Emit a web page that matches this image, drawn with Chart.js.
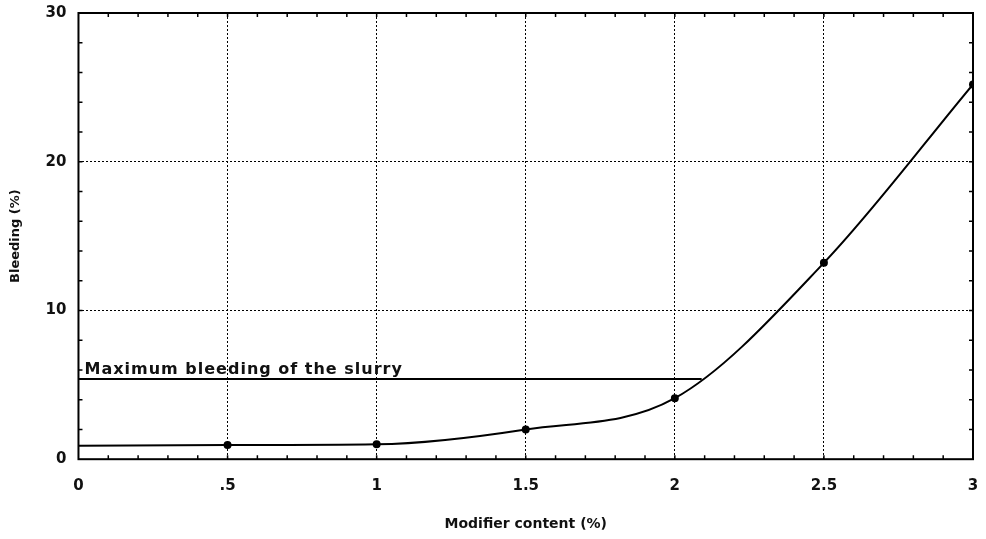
<!DOCTYPE html>
<html>
<head>
<meta charset="utf-8">
<script src="https://cdn.jsdelivr.net/npm/chart.js@4.4.0/dist/chart.umd.min.js"></script>
<style>
  html, body { margin: 0; padding: 0; background: #fff; }
  #wrap { width: 986px; height: 539px; }
</style>
</head>
<body>
<div id="wrap"><canvas id="bleeding-chart"></canvas></div>
<script>
// values
const modifierContent = [0, 0.5, 1, 1.5, 2, 2.5, 3];
const bleeding = [0.9, 0.95, 1.0, 2.0, 4.1, 13.2, 25.2];
const pointSizes = [0, 3, 3, 3, 3, 3, 3];
const maxBleedingX = [0, 2.09];
const maxBleedingY = [5.4, 5.4];
const maxBleedingLabel = 'Maximum bleeding of the slurry';
const xTicks = [0, 0.5, 1, 1.5, 2, 2.5, 3];
const yTicks = [0, 10, 20, 30];

const ctx = document.getElementById('bleeding-chart').getContext('2d');

// box, minor ticks and the label on the max line
const frame = {
  id: 'frame',
  afterDraw(chart) {
    const c = chart.ctx, a = chart.chartArea;
    const xs = chart.scales.x, ys = chart.scales.y;
    c.save();
    c.setLineDash([]);
    c.strokeStyle = '#000';
    c.lineWidth = 1.5;
    c.beginPath();
    for (let v = 0.1; v < 3; v += 0.1) {
      const px = xs.getPixelForValue(v);
      c.moveTo(px, a.bottom); c.lineTo(px, a.bottom - 4);
      c.moveTo(px, a.top); c.lineTo(px, a.top + 4);
    }
    for (let v = 2; v < 30; v += 2) {
      const py = ys.getPixelForValue(v);
      c.moveTo(a.left, py); c.lineTo(a.left + 4, py);
      c.moveTo(a.right, py); c.lineTo(a.right - 4, py);
    }
    c.stroke();
    c.lineWidth = 2;
    c.strokeRect(a.left, a.top, a.right - a.left, a.bottom - a.top);
    c.fillStyle = '#111';
    c.font = 'bold 16px "DejaVu Sans"';
    c.letterSpacing = '1px';
    c.textBaseline = 'bottom';
    c.fillText(maxBleedingLabel, xs.getPixelForValue(0) + 6, ys.getPixelForValue(maxBleedingY[0]) - 1);
    c.restore();
  }
};

new Chart(ctx, {
  type: 'line',
  data: {
    datasets: [{
      label: 'Bleeding',
      data: modifierContent.map((x, i) => ({ x: x, y: bleeding[i] })),
      borderColor: '#000',
      backgroundColor: '#000',
      borderWidth: 2,
      pointRadius: pointSizes,
      pointHoverRadius: pointSizes,
      cubicInterpolationMode: 'monotone',
      fill: false
    }, {
      label: 'Maximum bleeding',
      data: maxBleedingX.map((x, i) => ({ x: x, y: maxBleedingY[i] })),
      borderColor: '#000',
      borderWidth: 2,
      pointRadius: 0,
      fill: false
    }]
  },
  options: {
    responsive: true,
    maintainAspectRatio: false,
    animation: false,
    layout: { padding: { top: 13, right: 13, left: 4, bottom: 2 } },
    plugins: { legend: { display: false }, tooltip: { enabled: false } },
    scales: {
      x: {
        type: 'linear',
        min: 0, max: 3,
        afterBuildTicks: s => { s.ticks = xTicks.map(v => ({ value: v })); },
        afterFit: s => { s.paddingRight = 0; s.paddingLeft = 0; },
        grid: { color: '#000', lineWidth: 1, drawTicks: false },
        border: { display: false, dash: [2, 2] },
        ticks: {
          color: '#111',
          padding: 18,
          font: { family: 'DejaVu Sans', size: 15, weight: 'bold' },
          callback: v => String(v).replace(/^0\./, '.')
        },
        title: {
          display: true,
          text: 'Modifier content (%)',
          color: '#111',
          font: { family: 'DejaVu Sans', size: 14, weight: 'bold' },
          padding: { top: 3 }
        }
      },
      y: {
        min: 0, max: 30,
        afterBuildTicks: s => { s.ticks = yTicks.map(v => ({ value: v })); },
        afterFit: s => { s.paddingTop = 0; s.paddingBottom = 0; },
        grid: { color: '#000', lineWidth: 1, drawTicks: false },
        border: { display: false, dash: [2, 2] },
        ticks: {
          color: '#111',
          padding: 12,
          font: { family: 'DejaVu Sans', size: 15, weight: 'bold' }
        },
        title: {
          display: true,
          text: 'Bleeding (%)',
          color: '#111',
          font: { family: 'DejaVu Sans', size: 13, weight: 'bold' },
          padding: { bottom: 10 }
        }
      }
    }
  },
  plugins: [frame]
});
</script>
</body>
</html>
